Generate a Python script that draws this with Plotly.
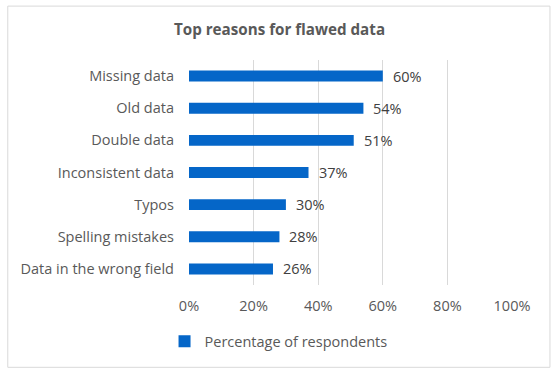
import plotly.graph_objects as go

categories = ["Missing data", "Old data", "Double data", "Inconsistent data",
              "Typos", "Spelling mistakes", "Data in the wrong field"]
values = [60, 54, 51, 37, 30, 28, 26]
series_name = "Percentage of respondents"
x_ticks = [0, 20, 40, 60, 80, 100]
x_tick_labels = ["0%", "20%", "40%", "60%", "80%", "100%"]
title = "Top reasons for flawed data"

W, H = 559, 375
L, R, T, B = 188.5, 47, 60, 89.5
pw, ph = W - L - R, H - T - B

FONT = "Open Sans"
BLUE = "#0566C8"
FS = 14.5

fig = go.Figure()
fig.add_trace(go.Bar(
    y=categories, x=values, orientation="h", name=series_name,
    marker=dict(color=BLUE, line=dict(width=0)),
    showlegend=True, hoverinfo="skip",
))

for c, v in zip(categories, values):
    fig.add_annotation(x=v, y=c, text=f"{v}%", showarrow=False,
                       xanchor="left", xshift=8,
                       font=dict(family=FONT, size=FS, color="#404040"))

def px(x):
    return (x - L) / pw

def py(y):
    return (H - B - y) / ph

fig.add_shape(type="rect", xref="paper", yref="paper",
              x0=px(7), x1=px(550), y0=py(368), y1=py(6),
              line=dict(color="#D9D9D9", width=1), layer="below")

fig.update_layout(
    width=W, height=H,
    margin=dict(l=L, r=R, t=T, b=B, autoexpand=False),
    paper_bgcolor="white", plot_bgcolor="white",
    bargap=0.66,
    title=dict(text=f"<b>{title}</b>", x=0.5, xref="container", xanchor="center",
               y=1 - 30 / H, yref="container", yanchor="middle",
               font=dict(family=FONT, size=15.2, color="#595959")),
    xaxis=dict(range=[0, 100], tickvals=x_ticks, ticktext=x_tick_labels,
               showgrid=True, gridcolor="#D9D9D9", gridwidth=1,
               zeroline=False, showline=False, ticks="",
               ticklabelstandoff=10, fixedrange=True,
               tickfont=dict(family=FONT, size=FS, color="#595959")),
    yaxis=dict(autorange="reversed", showgrid=False, zeroline=False,
               showline=False, ticks="", ticklabelstandoff=14, fixedrange=True,
               tickfont=dict(family=FONT, size=FS, color="#595959")),
    legend=dict(orientation="h", x=px(164), xanchor="left",
                y=py(342), yanchor="middle",
                font=dict(family=FONT, size=FS, color="#595959"),
                itemwidth=30),
)

fig.write_html("out.html", config={"displayModeBar": False},
               post_script="document.body.style.margin='0';")
